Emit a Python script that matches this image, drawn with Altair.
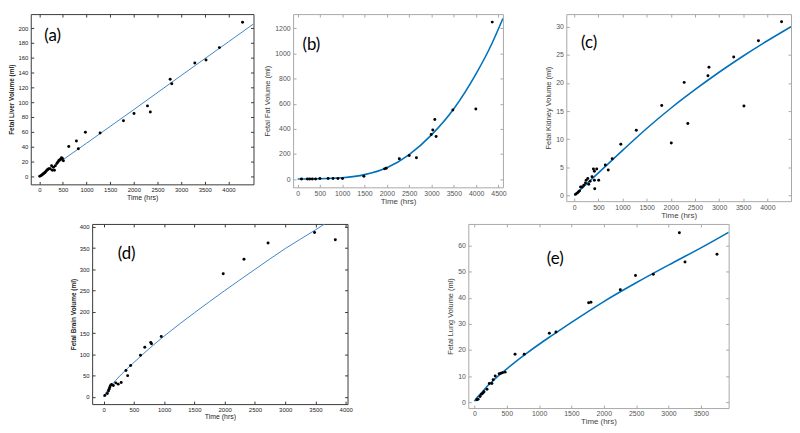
import altair as alt
import pandas as pd

FONT = "Liberation Sans"

# ---------------- data ----------------
# (a) liver
liver_t = [10, 40, 60, 80, 100, 120, 140, 160, 180, 200, 230, 260, 275, 300, 320, 340, 370, 390, 410, 430,
           450, 470, 490, 510, 623, 785, 826, 975, 1286, 1780, 2003, 2288, 2348, 2768, 2802, 3289, 3526, 3810, 4298]
liver_v = [0, 1, 2, 3, 4, 5, 6.5, 8, 9, 10, 10, 14, 8, 12, 8, 14, 17, 19, 21, 22,
           23, 25, 24, 21, 40, 47.6, 37, 59.4, 58.5, 74.8, 84.8, 95, 86.6, 131, 125, 152.8, 157, 173.7, 208]
liver_fit_t = [450, 1000, 2000, 3000, 4000, 4530]
liver_fit_v = [20, 44.6, 90, 136, 181.5, 205.7]

# (b) fat
fat_t = [88, 220, 272, 331, 404, 500, 684, 794, 904, 1007, 1485, 1949, 1985, 2279, 2500, 2662,
         2993, 3029, 3074, 3103, 3478, 3993, 4360]
fat_v = [0, 0, 0, 0, 0, 5, 5, 5, 5, 5, 23, 81, 86, 162, 187, 169,
         354, 391, 475, 338, 550, 558, 1250]
fat_fit_t = [0, 500, 1000, 1500, 2000, 2500, 3000, 3500, 4000, 4300, 4600]
fat_fit_v = [0, 2, 10, 35, 90, 195, 352, 560, 840, 1040, 1280]

# (c) kidney
kidney_t = [27, 57, 85, 109, 130, 164, 198, 232, 246, 280, 300, 328, 369, 397, 417, 417, 424, 465, 506,
            643, 704, 786, 964, 1285, 1812, 2010, 2277, 2352, 2769, 2790, 3303, 3515, 3815, 4294]
kidney_v = [0.2, 0.4, 0.6, 0.8, 1.5, 1.5, 1.8, 2.2, 2.7, 3.0, 2.0, 2.5, 3.3, 4.7, 4.3, 2.7, 1.2, 4.7, 2.7,
            5.4, 4.5, 6.5, 9.1, 11.6, 16.0, 9.3, 20.1, 12.8, 21.3, 22.8, 24.6, 15.9, 27.5, 30.9]
kidney_fit_t = [0, 500, 1000, 1500, 2000, 2500, 3000, 3500, 4000, 4490]
kidney_fit_v = [0, 4.0, 8.0, 11.9, 15.5, 18.8, 21.9, 24.8, 27.5, 30.0]

# (d) brain
brain_t = [20, 60, 80, 90, 100, 110, 130, 160, 200, 240, 290, 369, 397, 446, 609, 680, 778, 791, 952,
           1976, 2319, 2717, 3485, 3828]
brain_v = [3, 8, 14, 18, 22, 26, 29, 27, 33, 30, 34, 62, 50, 74, 98, 117, 128, 125, 142,
           290, 324, 362, 387, 370]
brain_fit_t = [0, 50, 100, 200, 300, 400, 500, 700, 1000, 1500, 2000, 2500, 3000, 3500, 3620, 3700]
brain_fit_v = [0, 13, 22, 39, 54, 68, 81, 107, 143, 198, 250, 300, 349, 393, 404, 411]

# (e) lung
lung_t = [36, 56, 87, 107, 128, 148, 194, 230, 270, 290, 321, 383, 408, 434, 474, 628, 770, 1158, 1260,
          1765, 1801, 2255, 2490, 2765, 3168, 3255, 3750]
lung_v = [0.9, 1.1, 2.1, 3.0, 3.4, 4.0, 4.9, 7.1, 7.1, 8.6, 10.0, 10.9, 11.1, 11.3, 11.5, 18.4, 18.4, 26.4, 26.9,
          38.1, 38.3, 43.1, 48.6, 49.1, 65.0, 53.8, 56.8]
lung_fit_t = [0, 50, 100, 200, 300, 400, 600, 800, 1000, 1200, 1500, 2000, 2500, 3000, 3500, 3930]
lung_fit_v = [0.3, 2, 3.3, 6.2, 8.5, 10.7, 14.8, 18.6, 22.2, 25.6, 30.6, 38.6, 45.8, 52.6, 59.2, 65.2]

x_ticks_4000 = [0, 500, 1000, 1500, 2000, 2500, 3000, 3500, 4000]
x_ticks_4500 = [0, 500, 1000, 1500, 2000, 2500, 3000, 3500, 4000, 4500]
x_ticks_3500 = [0, 500, 1000, 1500, 2000, 2500, 3000, 3500]
liver_y_ticks = list(range(0, 201, 20))
fat_y_ticks = [0, 200, 400, 600, 800, 1000, 1200]
kidney_y_ticks = [0, 5, 10, 15, 20, 25, 30]
brain_y_ticks = [0, 50, 100, 150, 200, 250, 300, 350, 400]
lung_y_ticks = [0, 10, 20, 30, 40, 50, 60]

OLD = dict(frame="#3a3a3a", lc="#222222", tc="#222222", lfs=6, xtfs=7, ytfs=6.5, ytw="bold",
           line="#3f86c8", lw=1.0)
NEW = dict(frame="#a8a8a8", lc="#555555", tc="#444444", lfs=7, xtfs=8, ytfs=7.5, ytw="normal",
           line="#0072BD", lw=1.6)


def panel(pt_t, pt_v, fit_t, fit_v, xdom, ydom, xticks, yticks, ytitle, label, lpos, w, h, st):
    xs = alt.Scale(domain=xdom, nice=False, zero=False)
    ys = alt.Scale(domain=ydom, nice=False, zero=False)
    common = dict(offset=-3, tickSize=3, domain=False, grid=False, tickColor=st["frame"],
                  tickWidth=1, labelFont=FONT, titleFont=FONT, labelOverlap=False, labelFlush=False,
                  format="d")
    ax_b = alt.Axis(orient="bottom", values=xticks, labelFontSize=st["lfs"], labelColor=st["lc"],
                    labelPadding=2, title="Time (hrs)", titleFontSize=st["xtfs"],
                    titleFontWeight="normal", titleColor=st["tc"], titlePadding=1, **common)
    ax_l = alt.Axis(orient="left", values=yticks, labelFontSize=st["lfs"], labelColor=st["lc"],
                    labelPadding=3, title=ytitle, titleFontSize=st["ytfs"],
                    titleFontWeight=st["ytw"], titleColor=st["tc"], titlePadding=3, **common)
    ax_t = alt.Axis(orient="top", values=xticks, labels=False, title=None, **common)
    ax_r = alt.Axis(orient="right", values=yticks, labels=False, title=None, **common)

    fit = alt.Chart(pd.DataFrame({"t": fit_t, "v": fit_v})).mark_line(
        color=st["line"], strokeWidth=st["lw"], clip=True, interpolate="monotone"
    ).encode(x=alt.X("t:Q", scale=xs, axis=ax_t), y=alt.Y("v:Q", scale=ys, axis=ax_r))

    pts = alt.Chart(pd.DataFrame({"t": pt_t, "v": pt_v})).mark_circle(
        size=9, color="black", opacity=1
    ).encode(x=alt.X("t:Q", scale=xs, axis=ax_b), y=alt.Y("v:Q", scale=ys, axis=ax_l))

    lab = alt.Chart(pd.DataFrame({"t": [lpos[0]], "v": [lpos[1]], "s": [label]})).mark_text(
        font="Lato", fontSize=17, color="black", align="center", baseline="middle"
    ).encode(x=alt.X("t:Q", scale=xs, axis=None), y=alt.Y("v:Q", scale=ys, axis=None), text="s:N")

    return alt.layer(fit, pts, lab).resolve_axis(x="independent", y="independent").properties(
        width=w, height=h, view=alt.ViewBackground(stroke=st["frame"], strokeWidth=1, fill="white")
    )


def spacer(w, h):
    return alt.Chart(pd.DataFrame({"z": [0]})).mark_point(opacity=0).encode(
        x=alt.value(0), y=alt.value(0)
    ).properties(width=w, height=h, view=alt.ViewBackground(stroke="transparent"))


pa = panel(liver_t, liver_v, liver_fit_t, liver_fit_v, [-180, 4530], [-11, 219], x_ticks_4000,
           liver_y_ticks, "Fetal Liver Volume (ml)", "(a)", (284, 189), 225, 172, OLD)
pb = panel(fat_t, fat_v, fat_fit_t, fat_fit_v, [-100, 4600], [-66, 1314], x_ticks_4500,
           fat_y_ticks, "Fetal Fat Volume (ml)", "(b)", (309, 1070), 212, 175, NEW)
pc = panel(kidney_t, kidney_v, kidney_fit_t, kidney_fit_v, [-165, 4490], [-1.03, 32.25], x_ticks_4000,
           kidney_y_ticks, "Fetal Kidney Volume (ml)", "(c)", (308, 27.1), 227, 189, NEW)
pd_ = panel(brain_t, brain_v, brain_fit_t, brain_fit_v, [-190, 4030], [-17, 407], x_ticks_4000,
            brain_y_ticks, "Fetal Brain Volume (ml)", "(d)", (380, 336), 258, 182, OLD)
pe = panel(lung_t, lung_v, lung_fit_t, lung_fit_v, [-95, 3930], [-2.3, 68.4], x_ticks_3500,
           lung_y_ticks, "Fetal Lung Volume (ml)", "(e)", (1250, 54.9), 263, 186, NEW)

row1 = alt.hconcat(pa, spacer(40, 10), pb, spacer(64, 10), pc, spacing=0, bounds="flush")
row2 = alt.hconcat(spacer(62, 10), pd_, spacer(122, 10), pe, spacing=0, bounds="flush")

chart = alt.vconcat(row1, row2, spacing=0).properties(
    padding=0, background="white"
).configure_view(stroke="transparent")

chart.save("out.html", embed_options={"renderer": "svg", "actions": False})
